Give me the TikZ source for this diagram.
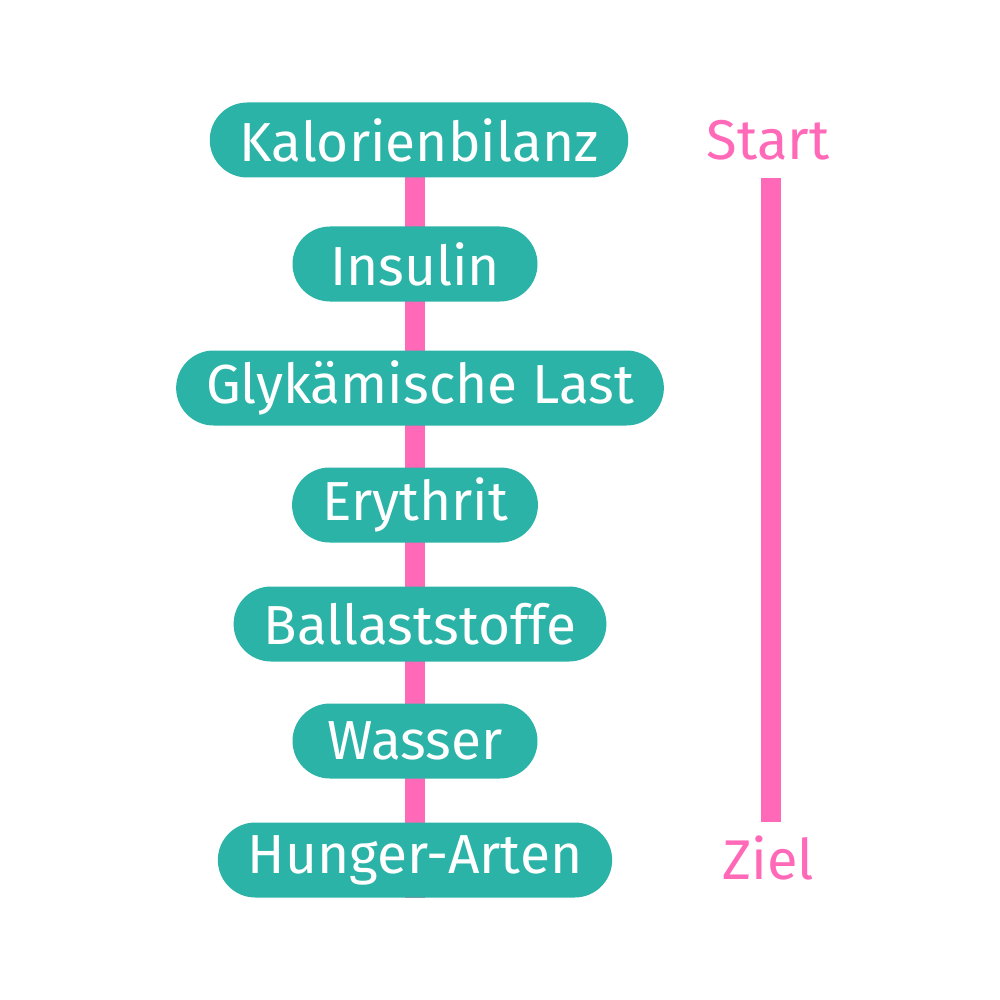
\documentclass[tikz,border=0pt]{standalone}
\usepackage{fontspec}
\setmainfont{Fira Sans}
\usetikzlibrary{backgrounds}
\definecolor{teal1}{HTML}{2BB3A8}
\definecolor{pink1}{HTML}{FF69B8}
\tikzset{
  pill/.style={fill=teal1, text=white, rounded corners=37.5pt, minimum height=75pt,
    minimum width=245pt, inner xsep=30pt, inner ysep=0pt, font=\fontsize{55}{60}\selectfont},
  pinkline/.style={draw=pink1, line width=20pt, line cap=butt},
  pinktext/.style={text=pink1, inner sep=0pt, font=\fontsize{56}{60}\selectfont}
}
\begin{document}
\begin{tikzpicture}[x=1pt, y=-1pt]
\useasboundingbox (0,0) rectangle (1000,1000);
\node[pill] (k) at (419,140) {Kalorienbilanz};
\node[pill] (i) at (415,264) {Insulin};
\node[pill] (g) at (420,388) {Glykämische Last};
\node[pill] (e) at (415,505) {Erythrit};
\node[pill] (b) at (420,624) {Ballaststoffe};
\node[pill] (w) at (415,741) {Wasser};
\node[pill] (h) at (415,860) {Hunger-Arten};
\begin{scope}[on background layer]
\draw[pinkline] (h.south |- k.center) -- (h.south);
\end{scope}
\node[pinktext] (s) at (768,140) {Start};
\node[pinktext] (z) at (768,858) {Ziel};
\coordinate (bt) at (771,178);
\coordinate (bb) at (771,822);
\draw[pinkline] (bt) -- (bb);
\end{tikzpicture}
\end{document}
